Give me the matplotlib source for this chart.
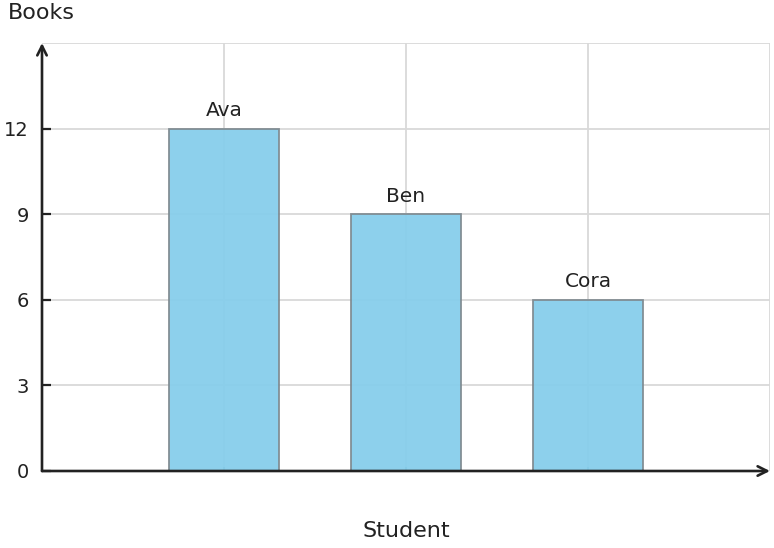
import matplotlib
matplotlib.use("Agg")
import matplotlib.pyplot as plt

plt.rcParams["font.family"] = ["DejaVu Sans"]

students = ["Ava", "Ben", "Cora"]
books = [12, 9, 6]
y_ticks = [0, 3, 6, 9, 12]

fig = plt.figure(figsize=(7.74, 5.48), dpi=100)
ax = fig.add_axes([42 / 774, 77 / 548, 728 / 774, 428 / 548])

xpos = [1, 2, 3]
ax.set_xlim(0, 4)
ax.set_ylim(0, 15)

# light grid behind the bars, incl. top/right edge
for y in [3, 6, 9, 12, 15]:
    ax.axhline(y, color="#d9d9d9", lw=1.3, zorder=0)
for x in xpos + [4]:
    ax.axvline(x, color="#d9d9d9", lw=1.3, zorder=0)

ax.bar(xpos, books, width=0.6, color="#87ceeb", alpha=0.95,
       edgecolor="#7f8a90", linewidth=1.3, zorder=2)

for x, v, name in zip(xpos, books, students):
    ax.text(x, v + 0.3, name, ha="center", va="bottom", fontsize=14.5,
            color="#222222")

for s in ax.spines.values():
    s.set_visible(False)

ax.set_yticks(y_ticks)
ax.set_yticklabels([str(v) for v in y_ticks])
ax.set_xticks(xpos)
ax.set_xticklabels([])
ax.tick_params(axis="y", direction="in", length=6.5, width=1.6, color="#222222",
               labelsize=14, labelcolor="#222222", pad=9.5)
ax.tick_params(axis="x", direction="in", length=3, width=1.5, color="#5a8fa8")

# axis arrows
ax.annotate("", xy=(0, 15), xytext=(0, 0), xycoords="data",
            arrowprops=dict(arrowstyle="->", color="#222222", lw=1.9,
                            shrinkA=0, shrinkB=0, mutation_scale=17),
            annotation_clip=False, zorder=5)
ax.annotate("", xy=(4, 0), xytext=(0, 0), xycoords="data",
            arrowprops=dict(arrowstyle="->", color="#222222", lw=1.9,
                            shrinkA=0, shrinkB=0, mutation_scale=17),
            annotation_clip=False, zorder=5)

fig.text(8 / 774, 1 - 13 / 548, "Books", ha="left", va="center",
         fontsize=16, color="#222222")
fig.text(406 / 774, 1 - 531 / 548, "Student", ha="center", va="center",
         fontsize=16, color="#222222")

fig.savefig("out.png", dpi=100)
